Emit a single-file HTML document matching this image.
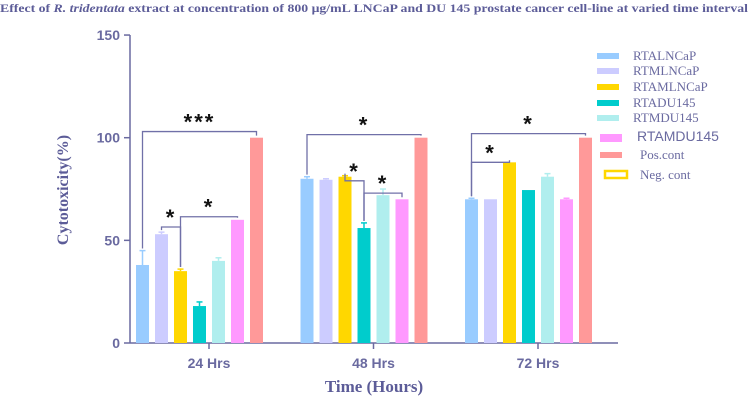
<!DOCTYPE html>
<html><head><meta charset="utf-8"><style>
body{margin:0;background:#fff;width:750px;height:402px;overflow:hidden}
svg{display:block}
.t{font-family:"Liberation Serif",serif;font-weight:bold;fill:#5c5c98}
.s{font-family:"Liberation Sans",sans-serif;font-weight:bold;fill:#6a6aa0}
</style></head><body>
<svg id="c" width="750" height="402">
<text class="t" x="0" y="12" font-size="12" textLength="748" lengthAdjust="spacingAndGlyphs">Effect of <tspan font-style="italic">R. tridentata</tspan> extract at concentration of  800  μg/mL LNCaP and DU 145 prostate cancer cell-line at varied time interval</text>
<text class="t" font-size="16" transform="translate(68,190) rotate(-90)" text-anchor="middle">Cytotoxicity(%)</text>
<text class="t" font-size="17" x="374" y="392" text-anchor="middle">Time (Hours)</text>
</svg>
<script>
const groups=["24 Hrs","48 Hrs","72 Hrs"];
const series=["RTALNCaP","RTMLNCaP","RTAMLNCaP","RTADU145","RTMDU145","RTAMDU145","Pos.cont","Neg. cont"];
const colors=["#99ccff","#ccccff","#ffd700","#00cccc","#b0eeee","#ff99ff","#ff9999","#ffd700"];
const v24=[38,53,35,18,40,60,100,0];
const v48=[80,79.5,81,56,72,70,100,0];
const v72=[70,70,88,74.5,81,70,100,0];
const e24=[7,1,1,2,1.5,0,0,0];
const e48=[1,0.5,0.5,2.5,3,0,0,0];
const e72=[0.5,0,0,0,1.5,0.5,0,0];
const yTicks=[0,50,100,150];
const brackets=[[0,0,6,103,"***"],[0,1,2,56.5,"*"],[0,2,5,61.5,"*"],[1,0,6,101.5,"*"],[1,2,3,79,"*"],[1,3,5,73,"*"],[2,0,6,102,"*"],[2,0,2,88,"*"]];
const vals=[v24,v48,v72],errs=[e24,e48,e72];
const svg=document.getElementById('c'),NS="http://www.w3.org/2000/svg";
const y=v=>343-v*2.053;
const gc=g=>209+164.5*g;
const bx=(g,i)=>gc(g)-73+19*i;
function mk(t,a,p){const e=document.createElementNS(NS,t);for(const k in a)e.setAttribute(k,a[k]);(p||svg).appendChild(e);return e;}
const ax="#6a6aa0";
let e=mk('line',{x1:130,y1:y(150),x2:130,y2:343,stroke:ax,'stroke-width':1.5});


e=mk('line',{x1:130,y1:343,x2:618,y2:343,stroke:ax,'stroke-width':1.5});


yTicks.forEach(t=>{mk('line',{x1:124,x2:130,y1:y(t),y2:y(t),stroke:ax,'stroke-width':1.5});
e=mk('text',{x:120,y:y(t)+5,'text-anchor':'end','font-size':14,class:'s'});e.textContent=t;

});
groups.forEach((gname,g)=>{mk('line',{x1:gc(g),x2:gc(g),y1:343,y2:349,stroke:ax,'stroke-width':1.5});
e=mk('text',{x:gc(g),y:368,'text-anchor':'middle','font-size':14,class:'s'});e.textContent=gname;


vals[g].forEach((v,i)=>{if(v<=0)return;
const b=mk('rect',{x:bx(g,i),y:y(v),width:13,height:343-y(v),fill:colors[i]});


const er=errs[g][i];if(er>0){const cx=bx(g,i)+6.5;
mk('line',{x1:cx,x2:cx,y1:y(v+er),y2:y(v),stroke:colors[i],'stroke-width':1.5});
mk('line',{x1:cx-3,x2:cx+3,y1:y(v+er),y2:y(v+er),stroke:colors[i],'stroke-width':1.5});}});});
brackets.forEach(([g,a,b,l,lab])=>{const x1=bx(g,a)+6.5,x2=bx(g,b)+6.5;
const p=mk('path',{d:`M${x1},${y(vals[g][a]+errs[g][a]+1)}V${y(l)}H${x2}V${y(vals[g][b]+errs[g][b]+1)}`,fill:'none',stroke:'#7070a8','stroke-width':1.3});


const t=mk('text',{x:(x1+x2)/2,y:y(l)-2,'text-anchor':'middle','font-size':22,'font-family':'Liberation Sans,sans-serif','font-weight':'bold',fill:'#111','letter-spacing':2});t.textContent=lab;

});
const ly=[56,71,87,103,118,137,155,175];
series.forEach((s,i)=>{const g=mk('g',{});


if(i==7){mk('rect',{x:605,y:ly[i]-4,width:22,height:7,fill:'#fff',stroke:colors[i],'stroke-width':2.5},g);}
else mk('rect',{x:597+(i>4?3:0),y:ly[i]-3,width:22,height:i==5?8:6,fill:colors[i]},g);
const t=mk('text',{x:i==5?637:(i>5?640:633),y:ly[i]+4,'font-size':i==5?14:13,fill:'#6a6aa0','font-family':i==5?'Liberation Sans,sans-serif':'Liberation Serif,serif'},g);t.textContent=s;});
</script>
</body></html>
